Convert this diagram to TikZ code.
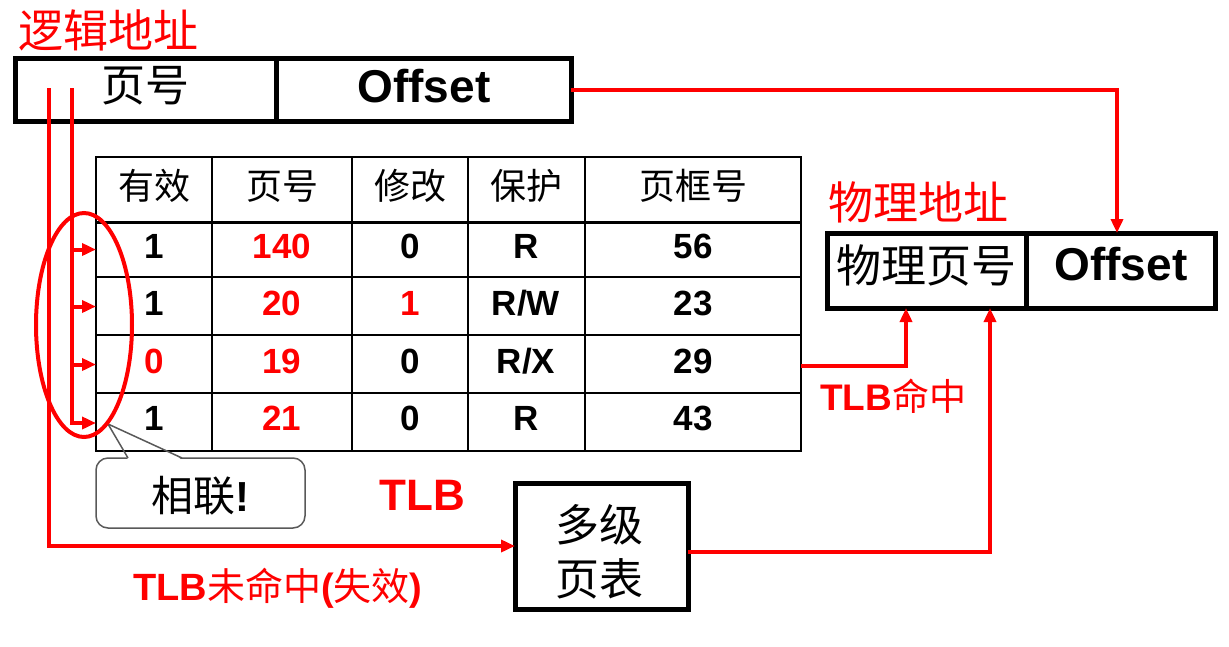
\documentclass[tikz,border=0pt]{standalone}
\usepackage{fontspec}
\newfontfamily\cjk{Noto Sans CJK SC}
\newfontfamily\arial{Liberation Sans}
\usetikzlibrary{arrows.meta}
\newcommand\myfs[1]{\fontsize{#1pt}{#1pt}\selectfont}
\begin{document}
\begin{tikzpicture}[x=1pt,y=-1pt,
  boxnode/.style={draw=black, line width=5pt, inner sep=0pt, outer sep=0pt, fill=white},
  redline/.style={draw=red, line width=4pt},
  redarrow/.style={redline, -{Triangle[length=14pt,width=12pt]}},
  cjktxt/.style={font=\cjk\myfs{#1}, inner sep=0pt, anchor=base},
  sanstxt/.style={font=\arial\bfseries\myfs{#1}, inner sep=0pt, anchor=base},
  hd/.style={cjktxt=36},
  dt/.style={sanstxt=35},
  tline/.style={draw=black, line width=2pt},
  calloutbox/.style={draw=black!65, line width=1.5pt, rounded corners=12pt, fill=white, inner sep=0pt}
]
\useasboundingbox (0,0) rectangle (1229,646);

% ---- logical address ----
\node[cjktxt=45, red] (lalabel) at (109,47) {逻辑地址};
\node[boxnode, minimum width=261pt, minimum height=63pt] (lvpn) at (145.5,89.5) {};
\node[boxnode, minimum width=295pt, minimum height=63pt] (loff) at (423.5,89.5) {};
\node[cjktxt=44] (lvpntxt) at (145,101) {页号};
\node[sanstxt=46] (lofftxt) at (424,102) {Offset};

% ---- TLB table ----
\draw[tline] (96,157) rectangle (801,451);
\draw[draw=black, line width=3pt] (96,222) -- (801,222);
\foreach \yy in {277,335,393} \draw[tline] (96,\yy) -- (801,\yy);
\foreach \xx in {212,352,468,585} \draw[tline] (\xx,157) -- (\xx,451);

\node[hd] (h1) at (154,199.5) {有效};
\node[hd] (h2) at (282,199.5) {页号};
\node[hd] (h3) at (410,199.5) {修改};
\node[hd] (h4) at (526,199.5) {保护};
\node[hd] (h5) at (693,199.5) {页框号};

\node[dt] (a1) at (154,258) {1};
\node[dt,red] (b1) at (282,258) {140};
\node[dt] (c1) at (410,258) {0};
\node[dt] (d1) at (526,258) {R};
\node[dt] (e1) at (693,258) {56};

\node[dt] (a2) at (154,315) {1};
\node[dt,red] (b2) at (282,315) {20};
\node[dt,red] (c2) at (410,315) {1};
\node[dt] (d2) at (526,315) {R/W};
\node[dt] (e2) at (693,315) {23};

\node[dt,red] (a3) at (154,373) {0};
\node[dt,red] (b3) at (282,373) {19};
\node[dt] (c3) at (410,373) {0};
\node[dt] (d3) at (526,373) {R/X};
\node[dt] (e3) at (693,373) {29};

\node[dt] (a4) at (154,430) {1};
\node[dt,red] (b4) at (282,430) {21};
\node[dt] (c4) at (410,430) {0};
\node[dt] (d4) at (526,430) {R};
\node[dt] (e4) at (693,430) {43};

\node[sanstxt=44, red] (tlblabel) at (422,510) {TLB};

% row entry points and hit exit
\coordinate (r1) at (96,249.5);
\coordinate (r2) at (96,306.5);
\coordinate (r3) at (96,364.5);
\coordinate (r4) at (96,423);
\coordinate (hitout) at (801,366);

% ---- callout ----
\node[calloutbox, minimum width=209pt, minimum height=70pt] (callout) at (200.5,493) {};
\fill[white] (128,460) -- (126.2,455) -- (175.5,455) -- (182,460) -- cycle;
\coordinate (ctip) at (108,424);
\draw[draw=black!65, line width=1.5pt, line join=round] (128,458) -- (ctip) -- (182,458);
\node[font=\myfs{42}, inner sep=0pt, anchor=base] (callouttxt) at (200,511) {{\cjk 相联}{\arial\bfseries !}};

% ---- physical address ----
\node[cjktxt=45, red] (palabel) at (918,219) {物理地址};
\node[boxnode, minimum width=199pt, minimum height=75pt] (pvpn) at (926.5,270.5) {};
\node[boxnode, minimum width=189pt, minimum height=75pt] (poff) at (1120.5,270.5) {};
\node[cjktxt=45] (pvpntxt) at (926,282) {物理页号};
\node[sanstxt=46] (pofftxt) at (1121,280) {Offset};

% ---- multi-level page table ----
\node[boxnode, minimum width=173pt, minimum height=126pt] (pt) at (601.5,546) {};
\node[cjktxt=44] (pttxt1) at (599,541) {多级};
\node[cjktxt=44] (pttxt2) at (599,595) {页表};

% ---- connectors ----
\coordinate (v1) at (72,88);
\coordinate (v2) at (49,88);
\draw[redline] (v1) -- (72,249.5);
\draw[redarrow] (72,249.5) -- (r1);
\draw[redarrow] (72,306.5) -- (r2);
\draw[redarrow] (72,364.5) -- (r3);
\draw[redarrow] (v1) -- (72,423) -- (r4);
\draw[redarrow] (v2) |- (pt.west);

\draw[redarrow] (loff.east) -| ([xshift=-3.5pt]poff.north);
\draw[redarrow] (hitout) -| ([xshift=-20.5pt]pvpn.south);
\draw[redarrow] ([yshift=-6pt]pt.east) -| ([xshift=63.5pt]pvpn.south);

\draw[draw=red, line width=4pt] (84,325) ellipse [x radius=48pt, y radius=112pt];

\node[font=\myfs{37}, red, inner sep=0pt, anchor=base west] (hitlabel) at (820,410)
  {{\arial\bfseries TLB}{\cjk 命中}};
\node[font=\myfs{38}, red, inner sep=0pt, anchor=base west] (misslabel) at (133,600)
  {{\arial\bfseries TLB}{\cjk 未命中}{\arial\bfseries(}{\cjk 失效}{\arial\bfseries)}};
\end{tikzpicture}
\end{document}
